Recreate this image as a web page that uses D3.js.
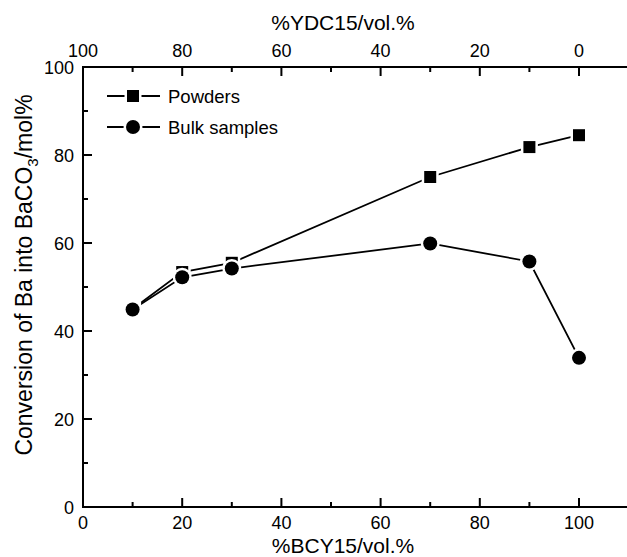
<!DOCTYPE html>
<html>
<head>
<meta charset="utf-8">
<script src="https://cdn.jsdelivr.net/npm/d3@7"></script>
<style>
  body { margin: 0; background: #fff; }
  text { font-family: "Liberation Sans", Arial, sans-serif; fill: #000; }
</style>
</head>
<body>
<div id="chart"></div>
<script>
const bcy = [10, 20, 30, 70, 90, 100];
const powders = [45, 53.4, 55.5, 75, 81.8, 84.5];
const bulk = [44.9, 52.2, 54.2, 59.9, 55.8, 33.9];
const xTicks = [0, 20, 40, 60, 80, 100];
const xMinor = [10, 30, 50, 70, 90];
const topTicks = [100, 80, 60, 40, 20, 0];
const topMinor = [90, 70, 50, 30, 10];
const yTicks = [0, 20, 40, 60, 80, 100];
const yMinor = [10, 30, 50, 70, 90];

const W = 627, H = 557;
const svg = d3.select("#chart").append("svg")
  .attr("width", W).attr("height", H);

const x = d3.scaleLinear().domain([0, 110]).range([83, 628.6]);
const xTop = d3.scaleLinear().domain([100, -10]).range([83, 628.6]);
const y = d3.scaleLinear().domain([0, 100]).range([507, 67]);

const x0 = x.range()[0], y0 = y.range()[0], yT = y.range()[1];

// axis frame (left, bottom, top)
const frame = d3.path();
frame.moveTo(W, yT); frame.lineTo(x0, yT); frame.lineTo(x0, y0); frame.lineTo(W, y0);
svg.append("path")
  .attr("d", frame.toString())
  .attr("fill", "none")
  .attr("stroke", "#000")
  .attr("stroke-width", 2);

// inward ticks drawn as thin filled rects
const tk = svg.append("g").attr("fill", "#000");
function vTick(px, py, len) { tk.append("rect").attr("x", px - 1).attr("y", len > 0 ? py : py + len).attr("width", 2).attr("height", Math.abs(len)); }
function hTick(px, py, len) { tk.append("rect").attr("x", px).attr("y", py - 1).attr("width", len).attr("height", 2); }
xTicks.forEach(v => vTick(x(v), y0, -9));
xMinor.forEach(v => vTick(x(v), y0, -5));
topTicks.forEach(v => vTick(xTop(v), yT, 9));
topMinor.forEach(v => vTick(xTop(v), yT, 5));
yTicks.forEach(v => hTick(x0, y(v), 9));
yMinor.forEach(v => hTick(x0, y(v), 5));

// tick labels
const lab = svg.append("g").style("font-size", "18px");
xTicks.forEach(v => lab.append("text").attr("x", x(v)).attr("y", 529).attr("text-anchor", "middle").text(v));
topTicks.forEach(v => lab.append("text").attr("x", xTop(v)).attr("y", 57).attr("text-anchor", "middle").text(v));
yTicks.forEach(v => lab.append("text").attr("x", 74).attr("y", y(v) + 6.5).attr("text-anchor", "end").text(v));

// axis titles
svg.append("text")
  .attr("x", 343).attr("y", 553)
  .attr("text-anchor", "middle")
  .style("font-size", "21px")
  .text("%BCY15/vol.%");

svg.append("text")
  .attr("x", 343).attr("y", 30)
  .attr("text-anchor", "middle")
  .style("font-size", "21px")
  .text("%YDC15/vol.%");

const yl = svg.append("text")
  .attr("transform", "translate(32,275) rotate(-90)")
  .attr("text-anchor", "middle")
  .style("font-size", "23px");
yl.append("tspan").text("Conversion of Ba into BaCO");
yl.append("tspan").attr("dy", 6).style("font-size", "15px").text("3");
yl.append("tspan").attr("dy", -6).text("/mol%");

// series
const line = d3.line().x(d => x(d[0])).y(d => y(d[1]));
const seriesP = bcy.map((v, i) => [v, powders[i]]);
const seriesB = bcy.map((v, i) => [v, bulk[i]]);

[seriesP, seriesB].forEach(s => {
  svg.append("path").datum(s)
    .attr("fill", "none").attr("stroke", "#000").attr("stroke-width", 1.8)
    .attr("d", line);
});

const sq = d3.symbol().type(d3.symbolSquare).size(144);
const ci = d3.symbol().type(d3.symbolCircle).size(Math.PI * 7 * 7);

function markers(data, sym) {
  svg.append("g").selectAll("path").data(data).join("path")
    .attr("transform", d => `translate(${x(d[0])},${y(d[1])})`)
    .attr("d", sym)
    .attr("fill", "#000")
    .attr("stroke", "#fff").attr("stroke-width", 5)
    .style("paint-order", "stroke");
}
markers(seriesP, sq);
markers(seriesB, ci);

// legend
const legend = [
  { label: "Powders", sym: sq, y: 96 },
  { label: "Bulk samples", sym: ci, y: 127 }
];
legend.forEach(l => {
  svg.append("line")
    .attr("x1", 107).attr("x2", 160).attr("y1", l.y).attr("y2", l.y)
    .attr("stroke", "#000").attr("stroke-width", 1.8);
  svg.append("path")
    .attr("transform", `translate(133,${l.y})`)
    .attr("d", l.sym)
    .attr("fill", "#000")
    .attr("stroke", "#fff").attr("stroke-width", 5)
    .style("paint-order", "stroke");
  svg.append("text")
    .attr("x", 168).attr("y", l.y + 6.5)
    .style("font-size", "18.5px")
    .text(l.label);
});
</script>
</body>
</html>
